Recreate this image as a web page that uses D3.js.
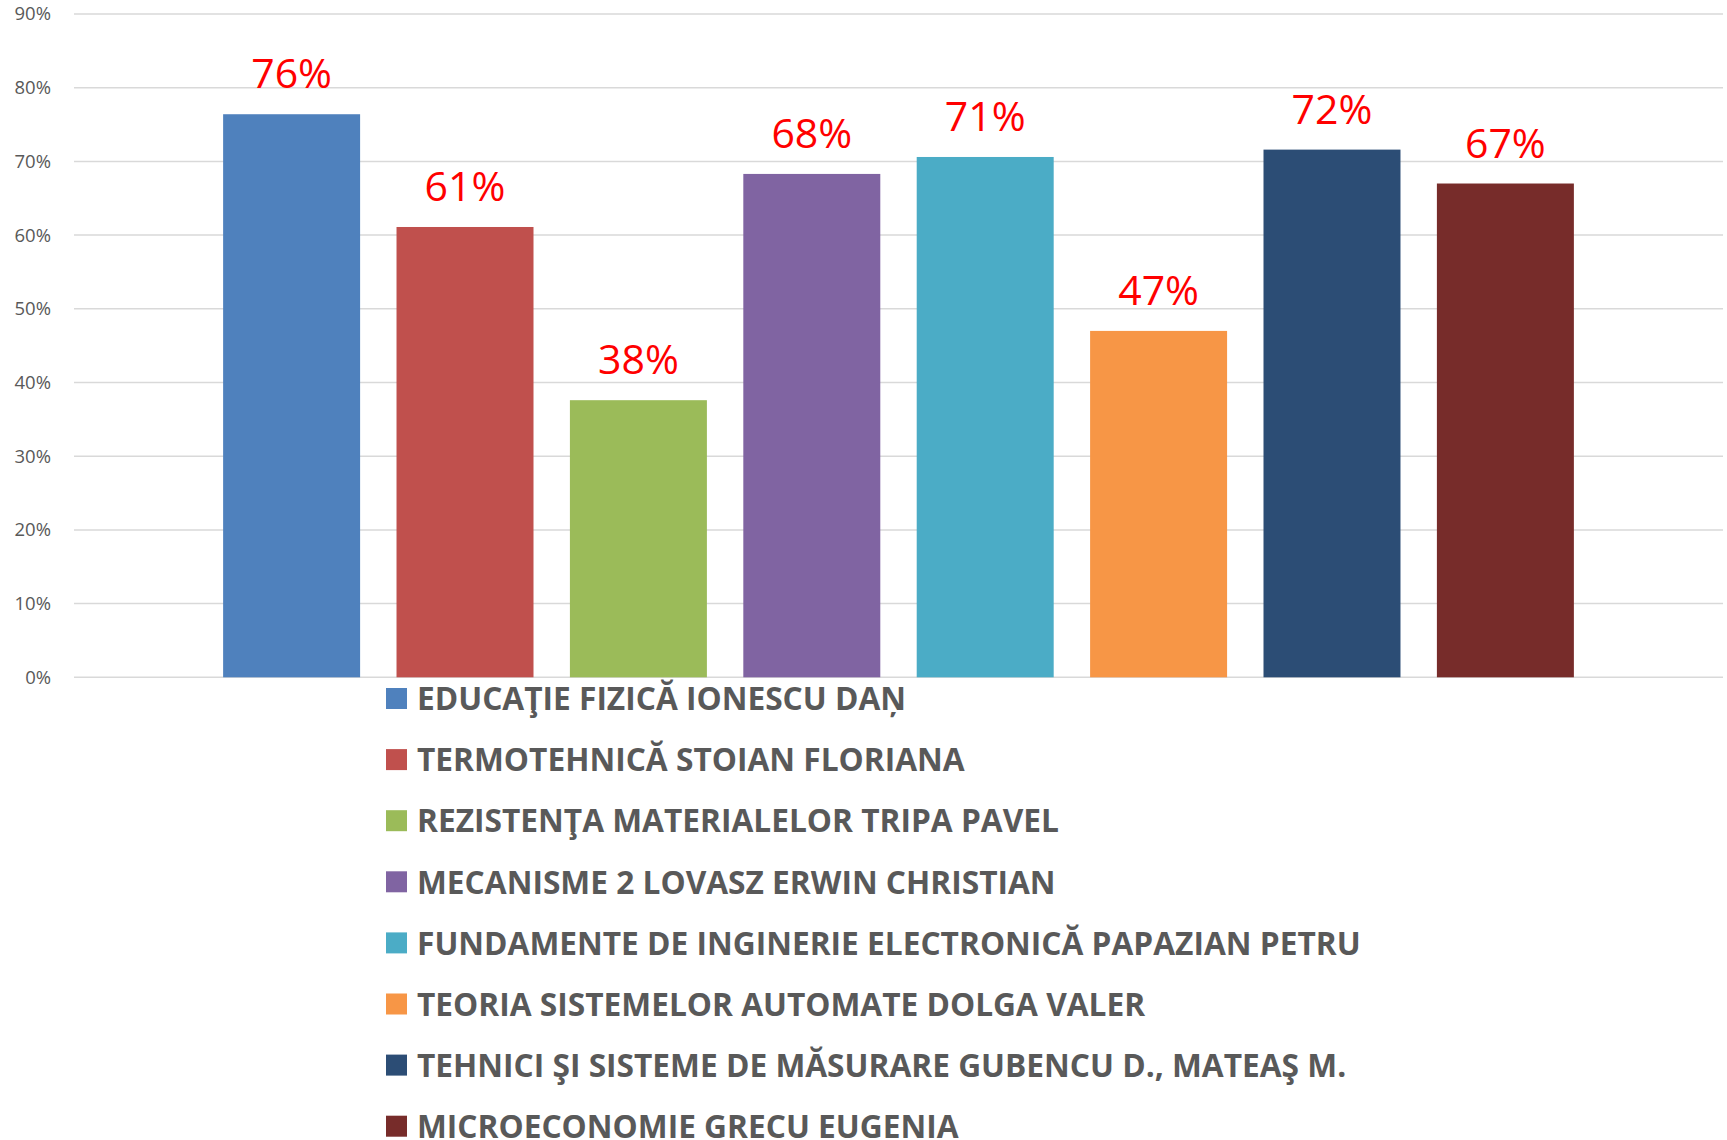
<!DOCTYPE html>
<html>
<head>
<meta charset="utf-8">
<script src="https://cdn.jsdelivr.net/npm/d3@7"></script>
<style>
  html, body { margin: 0; padding: 0; background: #ffffff; }
  svg { display: block; }
</style>
</head>
<body>
<svg id="chart" width="1727" height="1140"></svg>
<script>
// ---- data ----
const categories = [
  "EDUCAŢIE FIZICĂ IONESCU DAŅ",
  "TERMOTEHNICĂ STOIAN FLORIANA",
  "REZISTENŢA MATERIALELOR TRIPA PAVEL",
  "MECANISME 2 LOVASZ ERWIN CHRISTIAN",
  "FUNDAMENTE DE INGINERIE ELECTRONICĂ PAPAZIAN PETRU",
  "TEORIA SISTEMELOR AUTOMATE DOLGA VALER",
  "TEHNICI ŞI SISTEME DE MĂSURARE GUBENCU D., MATEAŞ M.",
  "MICROECONOMIE GRECU EUGENIA"
];
const values = [0.764, 0.611, 0.376, 0.683, 0.706, 0.470, 0.716, 0.670];
const colors = ["#4f81bd", "#c0504d", "#9bbb59", "#8064a2", "#4bacc6", "#f79646", "#2c4d75", "#772c2a"];
const yTicks = [0, 0.1, 0.2, 0.3, 0.4, 0.5, 0.6, 0.7, 0.8, 0.9];

// ---- layout ----
const svg = d3.select("#chart");
const plotLeft = 74, plotRight = 1723, plotTop = 14, plotBottom = 677.3;

const x = d3.scaleBand()
  .domain(categories)
  .range([plotLeft, plotRight])
  .paddingInner(0.21)
  .paddingOuter(0.86);

const y = d3.scaleLinear()
  .domain([0, 0.9])
  .range([plotBottom, plotTop]);

const pct = d3.format(".0%");

// gridlines
svg.append("g")
  .selectAll("line")
  .data(yTicks)
  .join("line")
  .attr("x1", plotLeft)
  .attr("x2", plotRight)
  .attr("y1", d => y(d))
  .attr("y2", d => y(d))
  .attr("stroke", "#d9d9d9")
  .attr("stroke-width", 1.5);

// y axis labels
const yAxis = d3.axisLeft(y).tickValues(yTicks).tickFormat(pct).tickSize(0).tickPadding(0);
const gy = svg.append("g")
  .attr("transform", `translate(51,0)`)
  .call(yAxis);
gy.select(".domain").remove();
gy.selectAll("text")
  .attr("fill", "#595959")
  .style("font-family", "'Open Sans', sans-serif")
  .style("font-size", "18.5px");

// bars
svg.append("g")
  .selectAll("rect")
  .data(values)
  .join("rect")
  .attr("x", (d, i) => x(categories[i]))
  .attr("width", x.bandwidth())
  .attr("y", d => y(d))
  .attr("height", d => y(0) - y(d))
  .attr("fill", (d, i) => colors[i]);

// data labels
svg.append("g")
  .selectAll("text")
  .data(values)
  .join("text")
  .attr("x", (d, i) => x(categories[i]) + x.bandwidth() / 2)
  .attr("y", d => y(d) - 26)
  .attr("text-anchor", "middle")
  .attr("fill", "#ff0000")
  .style("font-family", "'Open Sans', sans-serif")
  .style("font-size", "41px")
  .text(d => pct(d));

// legend
const legFont = 33;
const legTop = 698.5, legStep = 61.1, markerX = 386, markerSize = 21, textX = 417, condense = 0.96;
const leg = svg.append("g")
  .selectAll("g")
  .data(categories)
  .join("g")
  .attr("transform", (d, i) => `translate(0,${legTop + i * legStep})`);

leg.append("rect")
  .attr("x", markerX)
  .attr("y", -markerSize / 2)
  .attr("width", markerSize)
  .attr("height", markerSize)
  .attr("fill", (d, i) => colors[i]);

leg.append("text")
  .attr("x", textX)
  .attr("y", legFont * 0.357)
  .attr("fill", "#595959")
  .style("font-family", "'Open Sans', sans-serif")
  .style("font-weight", "bold")
  .style("font-size", legFont + "px")
  .text(d => d)
  .each(function () {
    const w = this.getComputedTextLength();
    d3.select(this)
      .attr("textLength", w * condense)
      .attr("lengthAdjust", "spacingAndGlyphs");
  });
</script>
</body>
</html>
